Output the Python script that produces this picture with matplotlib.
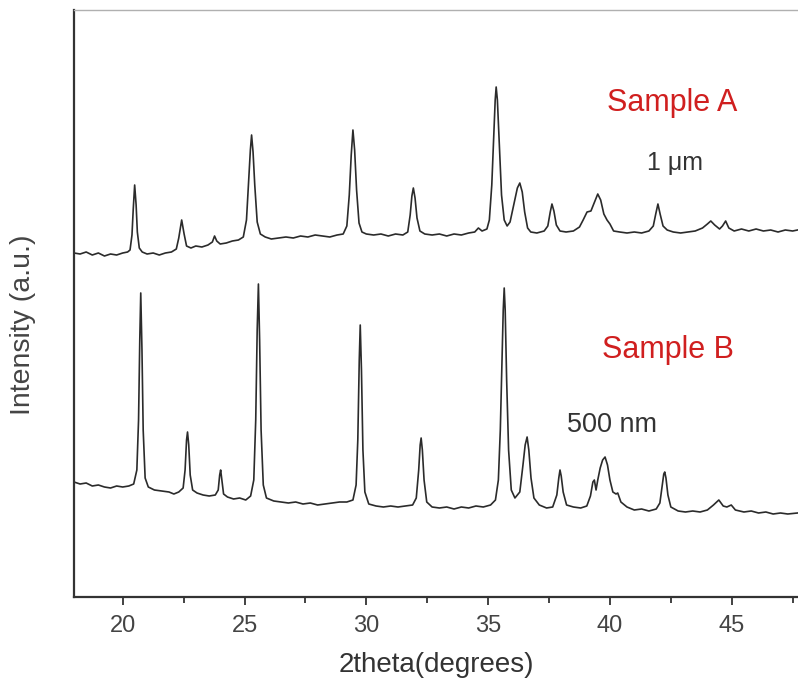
import matplotlib
matplotlib.use("Agg")
import matplotlib.pyplot as plt
from matplotlib.ticker import MultipleLocator

plt.rcParams['font.family'] = ['Liberation Sans', 'DejaVu Sans']

# Sample A (1 um) trace: 2theta (deg) and intensity (a.u.)
a_x = [18.00, 18.25, 18.5, 18.75, 19.0, 19.25, 19.5, 19.75, 20.0, 20.2, 20.3, 20.38, 20.43, 20.49,
       20.55, 20.6, 20.68, 20.8, 21.0, 21.25, 21.5, 21.75, 22.0, 22.2, 22.3, 22.42, 22.52, 22.62,
       22.8, 23.0, 23.25, 23.5, 23.68, 23.77, 23.86, 24.0, 24.25, 24.5, 24.75, 24.95, 25.08, 25.17,
       25.24, 25.29, 25.35, 25.42, 25.52, 25.65, 25.85, 26.1, 26.4, 26.7, 27.0, 27.3, 27.6, 27.9,
       28.2, 28.5, 28.8, 29.05, 29.2, 29.3, 29.38, 29.45, 29.52, 29.6, 29.7, 29.82, 30.0, 30.3,
       30.6, 30.9, 31.2, 31.5, 31.7, 31.8, 31.87, 31.93, 32.0, 32.08, 32.2, 32.4, 32.7, 33.0, 33.3,
       33.6, 33.9, 34.2, 34.45, 34.6, 34.75, 34.95, 35.05, 35.15, 35.23, 35.29, 35.33, 35.38, 35.46,
       35.55, 35.66, 35.78, 35.9, 36.05, 36.2, 36.3, 36.4, 36.5, 36.62, 36.75, 37.0, 37.3, 37.45,
       37.55, 37.62, 37.7, 37.8, 37.95, 38.2, 38.5, 38.75, 38.9, 39.06, 39.22, 39.35, 39.5, 39.62,
       39.75, 39.88, 40.0, 40.15, 40.4, 40.7, 41.0, 41.3, 41.6, 41.78, 41.88, 41.97, 42.06, 42.18,
       42.35, 42.6, 42.9, 43.2, 43.5, 43.8, 44.0, 44.14, 44.3, 44.5, 44.62, 44.75, 44.88, 45.1,
       45.4, 45.7, 46.0, 46.3, 46.6, 46.9, 47.2, 47.5, 47.7]
a_y = [344, 343, 345, 342, 344, 341, 343, 342, 344, 345, 347, 362, 387, 412,
       392, 365, 349, 345, 343, 344, 342, 344, 345, 348, 359, 377, 363, 351,
       349, 351, 350, 352, 355, 361, 356, 353, 354, 356, 357, 360, 377, 417,
       447, 462, 445, 412, 375, 363, 360, 358, 359, 360, 359, 361, 360, 362,
       361, 360, 362, 363, 371, 402, 442, 467, 447, 407, 374, 365, 363, 362,
       363, 361, 363, 362, 365, 382, 401, 409, 399, 379, 366, 363, 362, 363, 361,
       363, 362, 364, 365, 369, 366, 368, 377, 412, 462, 497, 510, 497, 452,
       402, 377, 371, 375, 392, 409, 414, 405, 385, 369, 365, 364, 366, 371,
       385, 393, 386, 372, 366, 365, 366, 370, 377, 385, 386, 394, 403, 397,
       383, 377, 373, 366, 365, 364, 365, 364, 366, 371, 383, 393, 383, 371,
       367, 365, 364, 365, 366, 369, 373, 376, 372, 368, 371, 376, 369, 366,
       368, 366, 368, 366, 367, 365, 367, 366, 367]

# Sample B (500 nm) trace
b_x = [18.0, 18.25, 18.5, 18.75, 19.0, 19.25, 19.5, 19.75, 20.0, 20.25, 20.45, 20.58, 20.65, 20.7,
       20.74, 20.79, 20.84, 20.92, 21.05, 21.3, 21.6, 21.9, 22.1, 22.3, 22.48, 22.56, 22.62, 22.66,
       22.71, 22.77, 22.87, 23.05, 23.3, 23.55, 23.8, 23.92, 23.98, 24.02, 24.07, 24.14, 24.3, 24.55,
       24.8, 25.05, 25.25, 25.38, 25.46, 25.52, 25.57, 25.62, 25.68, 25.77, 25.9, 26.2, 26.5, 26.8,
       27.1, 27.4, 27.7, 28.0, 28.3, 28.6, 28.9, 29.2, 29.45, 29.58, 29.65, 29.71, 29.75, 29.8,
       29.86, 29.94, 30.1, 30.4, 30.7, 31.0, 31.3, 31.6, 31.9, 32.05, 32.15, 32.21, 32.25, 32.3,
       32.37, 32.48, 32.7, 33.0, 33.3, 33.6, 33.9, 34.2, 34.5, 34.8, 35.1, 35.3, 35.42, 35.5, 35.57,
       35.62, 35.66, 35.7, 35.76, 35.84, 35.95, 36.1, 36.3, 36.43, 36.52, 36.6, 36.67, 36.76, 36.88,
       37.1, 37.4, 37.65, 37.82, 37.9, 37.95, 38.0, 38.08, 38.22, 38.5, 38.8, 39.05, 39.2, 39.3,
       39.36, 39.43, 39.5, 39.6, 39.7, 39.8, 39.9, 40.0, 40.12, 40.25, 40.32, 40.45, 40.7, 41.0,
       41.3, 41.6, 41.9, 42.05, 42.15, 42.21, 42.25, 42.3, 42.38, 42.5, 42.8, 43.1, 43.4, 43.7,
       44.0, 44.25, 44.47, 44.65, 44.8, 44.98, 45.15, 45.5, 45.8, 46.1, 46.4, 46.7, 47.0, 47.3, 47.7]
b_y = [115, 113, 114, 111, 112, 110, 109, 111, 110, 111, 113, 127, 177, 257,
       304, 247, 167, 119, 110, 107, 106, 105, 103, 105, 109, 127, 157, 165,
       152, 122, 107, 104, 102, 101, 102, 107, 122, 127, 117, 103, 100, 98,
       99, 97, 101, 117, 177, 267, 313, 257, 167, 112, 99, 96, 95, 94,
       95, 93, 94, 92, 93, 94, 95, 95, 97, 112, 157, 237, 272, 227,
       147, 105, 93, 91, 90, 91, 90, 91, 92, 99, 127, 152, 159, 147,
       117, 95, 90, 89, 90, 88, 90, 89, 91, 90, 92, 97, 117, 167, 237,
       287, 309, 287, 217, 147, 107, 99, 105, 132, 152, 160, 147, 119, 99,
       92, 89, 90, 102, 119, 127, 121, 105, 92, 90, 89, 91, 101, 115,
       117, 107, 117, 129, 137, 140, 132, 117, 105, 103, 104, 95, 90, 87,
       88, 86, 88, 94, 112, 123, 125, 119, 102, 90, 86, 85, 86, 85,
       87, 92, 97, 91, 90, 92, 87, 85, 86, 84, 85, 83, 84, 83, 84]

labels = ["Sample A", "Sample B"]
sizes = ["1 \u03bcm", "500 nm"]
xticks = [20, 25, 30, 35, 40, 45]

fig = plt.figure(figsize=(7.98, 6.82), dpi=100)
ax = fig.add_axes([74 / 798, 1 - 597 / 682, 1 - 74 / 798, (597 - 10) / 682])

line_col = "#2b2b2b"
ax.plot(a_x, a_y, color=line_col, lw=1.2)
ax.plot(b_x, b_y, color=line_col, lw=1.2)

ax.set_xlim(18, 47.72)
ax.set_ylim(0, 587)

ax.set_xticks(xticks)
ax.xaxis.set_minor_locator(MultipleLocator(2.5))
ax.set_yticks([])
ax.tick_params(axis='x', which='major', direction='out', length=6, width=1.3,
               colors='#333333', labelsize=17, pad=7, labelcolor='#444444')
ax.tick_params(axis='x', which='minor', direction='out', length=4, width=1.3, colors='#333333')

for side in ['left', 'bottom']:
    ax.spines[side].set_color('#333333')
    ax.spines[side].set_linewidth(1.6)
ax.spines['top'].set_color('#b0b0b0')
ax.spines['top'].set_linewidth(1.0)
ax.spines['right'].set_visible(False)

ax.set_xlabel("2theta(degrees)", fontsize=20, color='#333333', labelpad=11)
ax.set_ylabel("Intensity (a.u.)", fontsize=20.5, color='#444444')
ax.yaxis.set_label_coords(-0.052, 0.463)

red = "#d01f1f"
ax.text(42.55, 494, labels[0], color=red, fontsize=22, ha='center', va='center')
ax.text(42.67, 434, sizes[0], color='#333333', fontsize=18, ha='center', va='center')
ax.text(42.4, 247, labels[1], color=red, fontsize=22, ha='center', va='center')
ax.text(40.1, 172, sizes[1], color='#333333', fontsize=19.5, ha='center', va='center')

fig.savefig("out.png", dpi=100)
